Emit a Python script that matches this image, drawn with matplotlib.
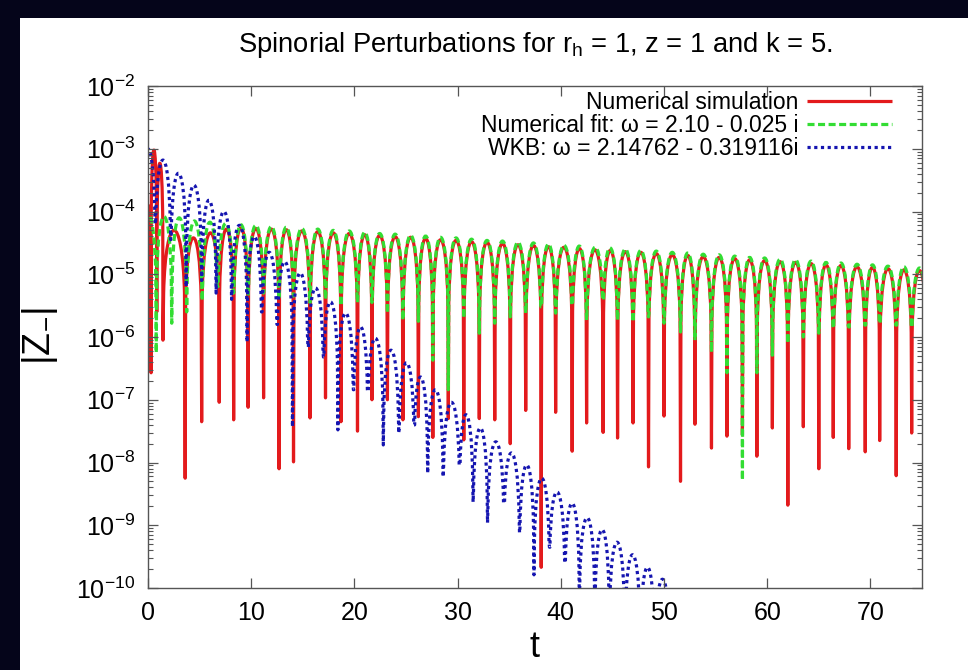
import numpy as np
import matplotlib
matplotlib.use("Agg")
import matplotlib.pyplot as plt
from matplotlib.path import Path
from matplotlib.patches import PathPatch, Rectangle
from matplotlib.lines import Line2D
from matplotlib.ticker import LogLocator, NullFormatter, FixedLocator

# --- values (log10 |Z_-|) --------------------------------------------------
# red: numerical simulation. cusp times, depth at each cusp, height of each arc
red_cusp_t = [-0.3, 0.3, 0.85, 1.45, 3.6, 5.2, 6.9, 8.3, 9.7, 11.2, 12.7, 14.1,
              15.7, 17.2, 18.7, 20.3, 21.7, 23.2, 24.7, 26.2, 27.6, 29.1, 30.6,
              32.1, 33.6, 35.1, 36.6, 38.1, 39.5, 41.1, 42.5, 44.1, 45.5, 47.0,
              48.5, 50.0, 51.6, 53.0, 54.6, 56.1, 57.6, 59.0, 60.5, 62.0, 63.5,
              65.0, 66.4, 67.9, 69.5, 70.9, 72.5, 74.0, 75.5]
red_trough = [-6.0, -6.57, -5.6, -6.05, -8.25, -7.35, -7.04, -7.32, -7.12, -6.97,
              -8.10, -7.99, -7.29, -6.97, -7.35, -7.50, -7.0, -7.0, -7.32, -7.27,
              -7.6, -7.3, -7.64, -7.30, -7.32, -7.70, -7.17, -9.67, -7.2, -7.82,
              -7.37, -7.52, -7.61, -7.37, -8.07, -7.26, -8.30, -7.39, -7.77, -7.58,
              -7.56, -7.90, -7.45, -8.68, -7.43, -8.10, -7.6, -7.78, -7.83, -7.65,
              -8.21, -7.53, -7.5]
red_peak = [-3.9, -3.02, -3.23, -4.30, -4.42, -4.34, -4.28, -4.26,
            -4.27, -4.28, -4.29, -4.31, -4.32, -4.34, -4.35, -4.37, -4.38, -4.40,
            -4.41, -4.43, -4.45, -4.46, -4.48, -4.49, -4.51, -4.53, -4.54, -4.56,
            -4.57, -4.59, -4.61, -4.62, -4.64, -4.65, -4.67, -4.69, -4.70, -4.72,
            -4.73, -4.75, -4.77, -4.78, -4.80, -4.81, -4.83, -4.85, -4.86, -4.88,
            -4.89, -4.91, -4.93, -4.94]

# green: numerical fit
green_cusp_t = [-0.7, 0.8, 2.3, 3.75, 5.25, 6.75] + red_cusp_t[7:]
green_trough = [-6.0, -6.25, -5.78, -5.6, -5.42, -5.2,
                -5.3, -5.35, -5.3, -5.4, -5.35, -5.45, -5.4, -5.5, -5.45, -5.45,
                -5.62, -5.73, -5.75, -6.37, -6.84, -5.7, -5.94, -5.78, -5.68, -5.62,
                -5.52, -5.62, -5.49, -5.73, -5.41, -5.73, -5.76, -5.68, -5.78, -5.92,
                -6.05, -6.24, -6.57, -8.28, -6.57, -6.29, -6.10, -6.0, -5.94, -5.86,
                -5.84, -5.81, -5.78, -5.81, -5.84, -5.8]
green_peak = [-4.05, -4.08, -4.10, -4.15, -4.17, -4.19,
              -4.21, -4.22, -4.24, -4.25, -4.27, -4.28, -4.30, -4.31, -4.33, -4.35,
              -4.36, -4.38, -4.39, -4.41, -4.42, -4.44, -4.46, -4.47, -4.49, -4.50,
              -4.52, -4.54, -4.55, -4.57, -4.58, -4.60, -4.62, -4.63, -4.65, -4.66,
              -4.68, -4.69, -4.71, -4.73, -4.74, -4.76, -4.77, -4.79, -4.81, -4.82,
              -4.84, -4.85, -4.87, -4.88, -4.90]

# blue: WKB
blue_cusp_t = [-0.75, 0.7, 2.2, 3.7, 5.2, 6.6, 8.1, 9.6, 11.0, 12.5, 14.0, 15.5,
               17.0, 18.4, 19.9, 21.3, 22.8, 24.3, 25.8, 27.1, 28.6, 30.2, 31.5,
               32.9, 34.5, 36.0, 37.4, 38.9, 40.4, 41.8, 43.3, 44.7, 46.2, 47.7,
               49.1, 50.6]
blue_trough = [-4.5, -4.2, -4.45, -5.2, -5.1, -5.3, -5.4, -6.08, -5.6, -5.8,
               -7.43, -6.16, -6.32, -7.48, -6.84, -6.87, -7.72, -7.53, -7.40, -8.17,
               -8.23, -8.04, -8.63, -8.96, -8.65, -9.12, -9.79, -9.35, -9.6, -10.3,
               -10.4, -10.5, -10.6, -10.8, -11.0, -11.2]
blue_peak = [-3.0, -3.18, -3.39, -3.58, -3.82, -4.0, -4.22, -4.4, -4.65, -4.8,
             -4.98, -5.22, -5.44, -5.62, -5.84, -6.02, -6.21, -6.41, -6.64, -6.84,
             -7.04, -7.24, -7.45, -7.67, -7.85, -8.04, -8.25, -8.47, -8.65, -8.88,
             -9.07, -9.27, -9.47, -9.67, -9.86]

labels = ["Numerical simulation",
          "Numerical fit: \u03c9 = 2.10 - 0.025 i",
          "WKB: \u03c9 = 2.14762 - 0.319116i"]
x_ticks = [0, 10, 20, 30, 40, 50, 60, 70]

RED, GREEN, BLUE = "#e31a1c", "#33dd33", "#1515b0"


def arcs_path(cusp_t, trough, peak):
    # |cos|-like arches between cusps, built as bezier segments in log space
    verts = [(cusp_t[0], 10 ** trough[0])]
    codes = [Path.MOVETO]
    for i in range(len(peak)):
        ta, tb = cusp_t[i], cusp_t[i + 1]
        h = tb - ta
        p = peak[i]
        ya = max(p - 1.0, trough[i])
        yb = max(p - 1.0, trough[i + 1])
        c = (8 * p - ya - yb) / 6.0
        verts += [(ta + 0.03 * h, 10 ** ya),
                  (ta + 0.123 * h, 10 ** c), (tb - 0.123 * h, 10 ** c),
                  (tb - 0.03 * h, 10 ** yb),
                  (tb, 10 ** trough[i + 1])]
        codes += [Path.LINETO, Path.CURVE4, Path.CURVE4, Path.CURVE4, Path.LINETO]
    return Path(verts, codes)


plt.rcParams['font.family'] = ['Liberation Sans', 'DejaVu Sans']
plt.rcParams['mathtext.fontset'] = 'custom'
plt.rcParams['mathtext.rm'] = 'Liberation Sans'
plt.rcParams['mathtext.it'] = 'Liberation Sans'
plt.rcParams['mathtext.default'] = 'regular'

fig = plt.figure(figsize=(9.68, 6.7), dpi=100, facecolor="#05051a")
fig.patches.append(Rectangle((20 / 968, 0), 1, 1 - 18 / 670, transform=fig.transFigure,
                             facecolor="white", edgecolor="none", zorder=-5))
ax = fig.add_axes([148 / 968, 1 - 588 / 670, (922 - 148) / 968, (588 - 86) / 670])
ax.set_zorder(2)

lw = 2.3
styles = [dict(color=RED, linestyle="-"),
          dict(color=GREEN, linestyle=(0, (2.2, 1.1))),
          dict(color=BLUE, linestyle=(0, (1.0, 1.1)))]
series = [(red_cusp_t, red_trough, red_peak),
          (green_cusp_t, green_trough, green_peak),
          (blue_cusp_t, blue_trough, blue_peak)]
for (ct, tr, pk), st in zip(series, styles):
    patch = PathPatch(arcs_path(ct, tr, pk), fill=False, lw=lw, capstyle="butt",
                      joinstyle="round", transform=ax.transData, **st)
    ax.add_patch(patch)

ax.set_yscale("log")
ax.set_xlim(0, 75)
ax.set_ylim(1e-10, 1e-2)
ax.xaxis.set_major_locator(FixedLocator(x_ticks))
ax.yaxis.set_major_locator(LogLocator(base=10, numticks=20))
ax.yaxis.set_minor_locator(LogLocator(base=10, subs=np.arange(2, 10), numticks=20))
ax.yaxis.set_minor_formatter(NullFormatter())
ax.tick_params(which="both", direction="in", top=True, right=True, color="#555555",
               labelsize=18, pad=9)
ax.tick_params(which="major", length=7.5, width=0.9)
ax.tick_params(which="minor", length=3.8, width=0.8)
for sp in ax.spines.values():
    sp.set_color("#555555")
    sp.set_linewidth(1.0)

handles = [Line2D([], [], lw=lw, solid_capstyle="butt", dash_capstyle="butt", **st)
           for st in styles]
ax.legend(handles, labels, loc="upper right", frameon=False, markerfirst=False,
          bbox_to_anchor=(892 / 968, 1 - 91 / 670), bbox_transform=fig.transFigure,
          borderpad=0, borderaxespad=0, handlelength=3.7, handletextpad=0.4,
          labelspacing=0.0, prop={"size": 16.5})

fig.text(535 / 968, 1 - 45 / 670, "Spinorial Perturbations for r$_h$ = 1, z = 1 and k = 5.",
         ha="center", va="center", fontsize=19.7)
ax.set_xlabel("t", fontsize=26, labelpad=4)
fig.text(40 / 968, 1 - 336 / 670, "|Z$_{-}$|", rotation=90, ha="center", va="center",
         fontsize=27)

fig.savefig("out.png", dpi=100, facecolor=fig.get_facecolor())
